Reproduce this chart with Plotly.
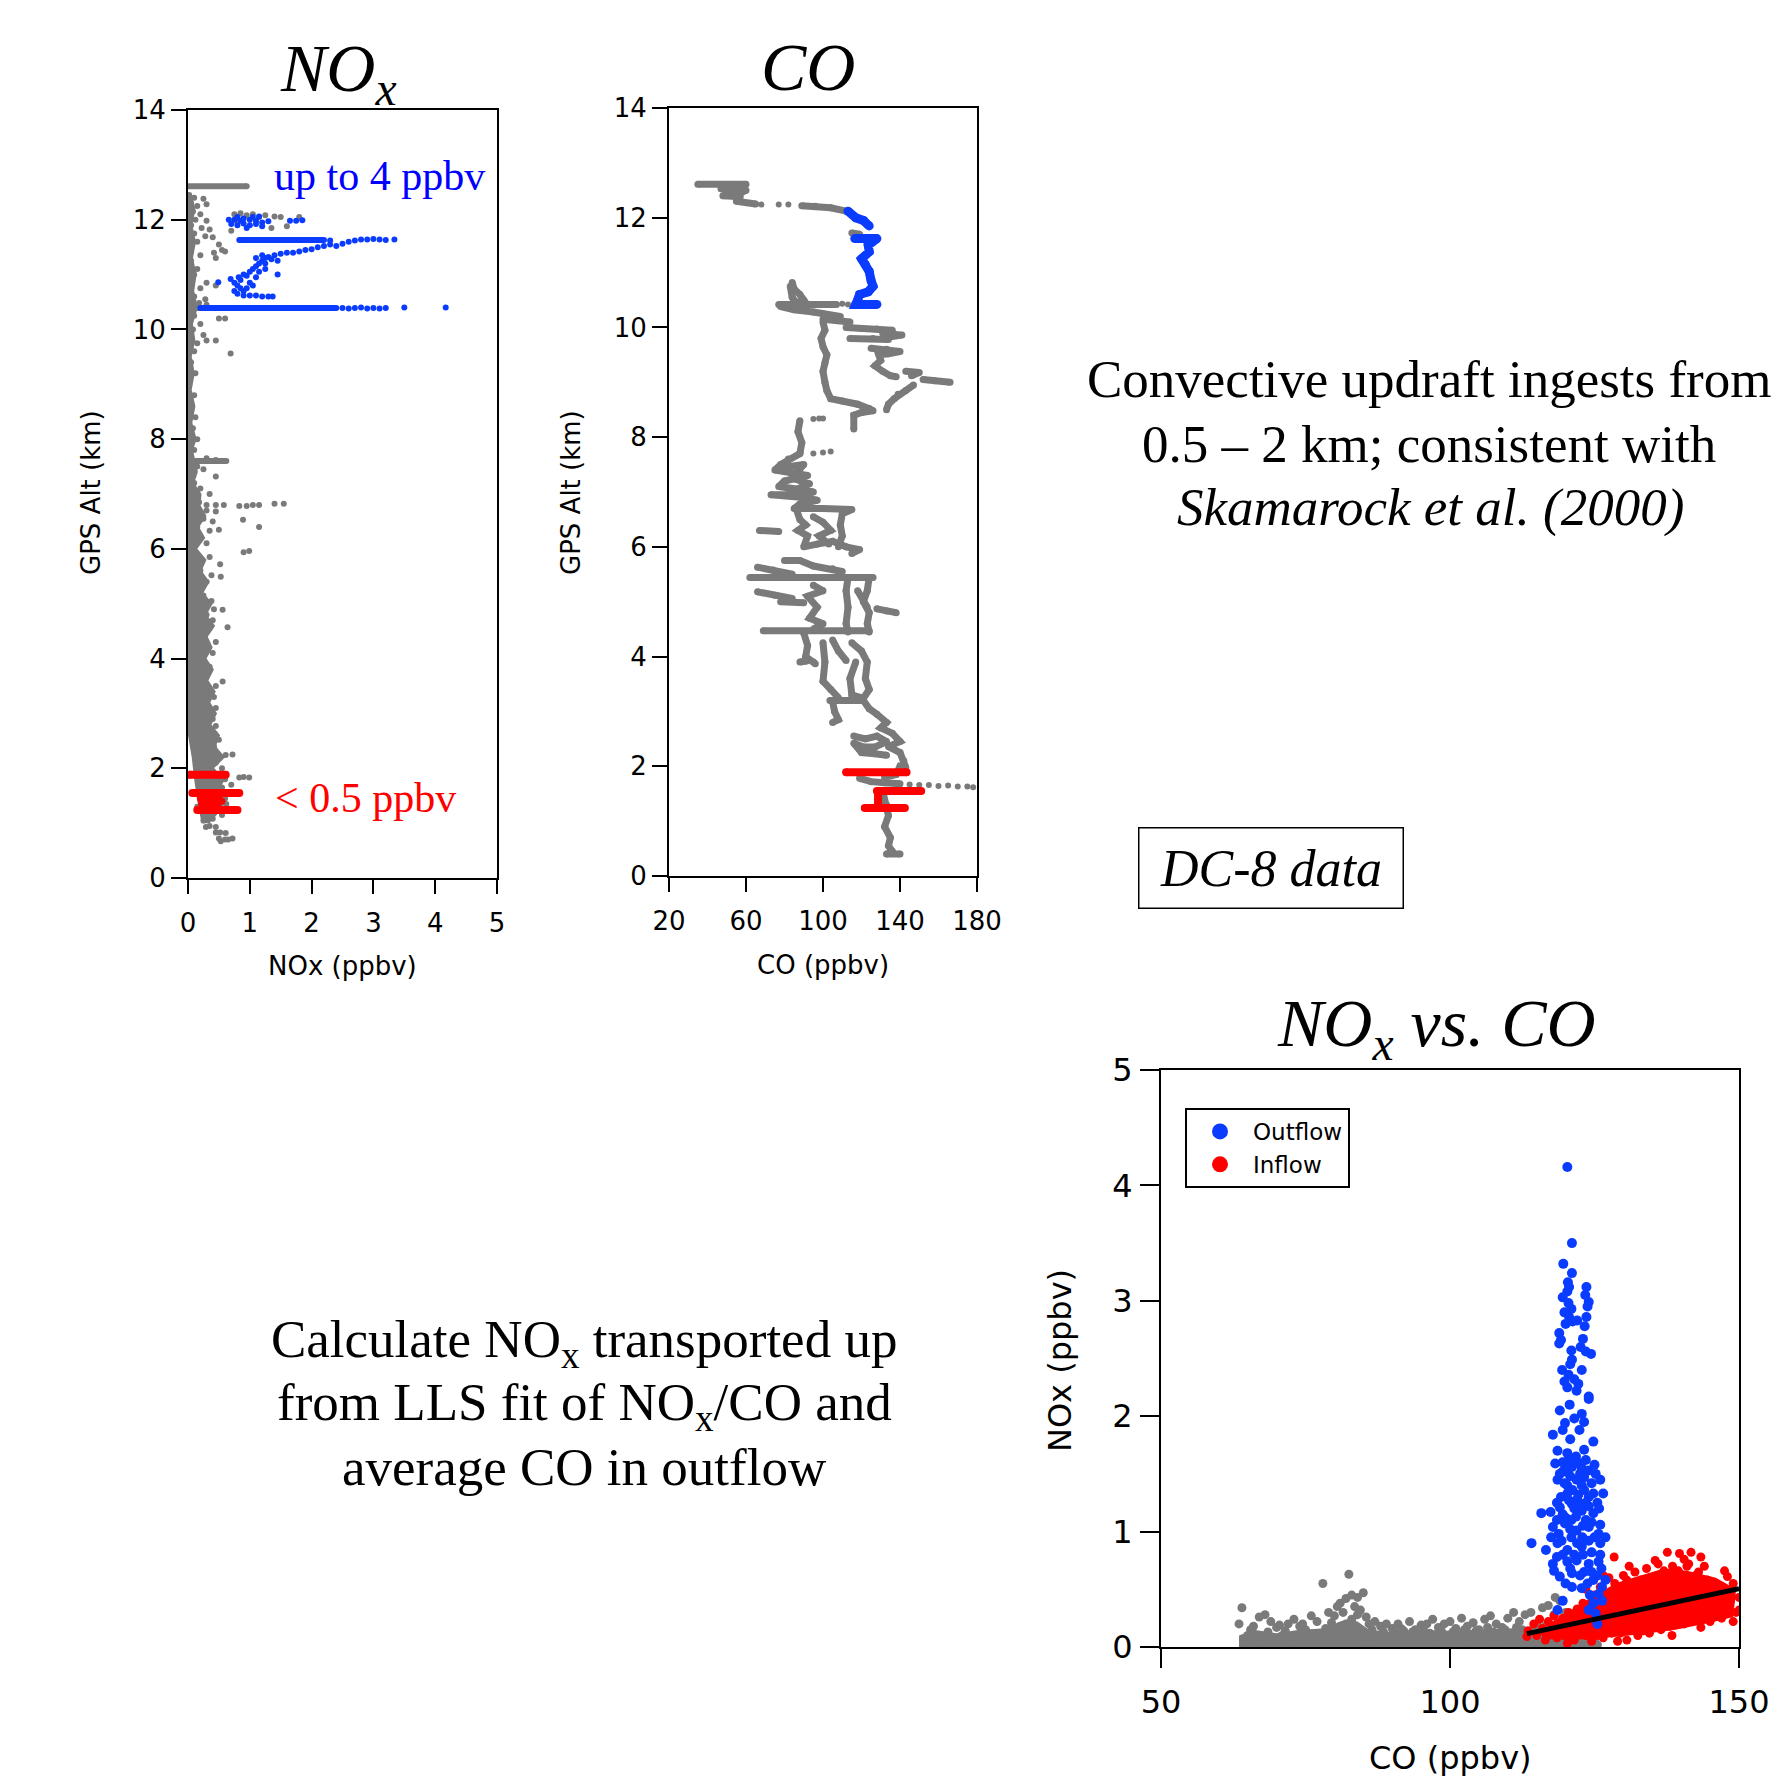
import plotly.graph_objects as go

W, H = 1775, 1778
SANS = "DejaVu Sans"
SERIF = "Liberation Serif"
GRAY = "#7a7a7a"
BLUE = "#0a3cff"
RED = "#ff0000"

# ---------------- Panel 1: NOx profile (NOx ppbv, GPS altitude km) ----------------
NOX_TICKS = [0, 1, 2, 3, 4, 5]
ALT_TICKS = [0, 2, 4, 6, 8, 10, 12, 14]

NOX_GRAY_CORE = [(0.35, 1.0), (0.5, 1.2), (0.62, 1.4), (0.5, 1.6), (0.6, 1.8), (0.42, 2.0), (0.6, 2.2),
                 (0.45, 2.4), (0.52, 2.6), (0.38, 2.8), (0.47, 3.0), (0.36, 3.2), (0.45, 3.4), (0.33, 3.6),
                 (0.42, 3.8), (0.3, 4.0), (0.4, 4.2), (0.32, 4.4), (0.44, 4.6), (0.3, 4.8), (0.4, 5.0),
                 (0.25, 5.2), (0.35, 5.4), (0.22, 5.6), (0.3, 5.8), (0.15, 6.0), (0.28, 6.2), (0.18, 6.4),
                 (0.3, 6.6), (0.2, 6.8), (0.22, 7.0), (0.1, 7.2), (0.16, 7.4), (0.12, 7.6), (0.08, 7.8),
                 (0.14, 8.0), (0.07, 8.3), (0.12, 8.6), (0.06, 8.9), (0.11, 9.2), (0.06, 9.5), (0.12, 9.8),
                 (0.08, 10.1), (0.16, 10.4), (0.1, 10.7), (0.14, 11.0), (0.08, 11.3), (0.13, 11.6),
                 (0.07, 11.9), (0.12, 12.2), (0.06, 12.45), (-0.04, 12.45), (-0.04, 3.0), (0.0, 2.6),
                 (0.06, 2.2), (0.1, 1.8), (0.15, 1.4), (0.22, 1.0)]
NOX_GRAY_PTS = [(0.02, 12.45), (0.1, 12.4), (0.25, 12.38), (0.05, 12.3), (0.15, 12.25), (0.3, 12.28), (0.08, 12.15),
                (0.2, 12.1), (0.12, 12.0), (0.3, 11.98), (0.05, 11.9), (0.22, 11.85), (0.35, 11.82), (0.1, 11.75),
                (0.28, 11.7), (0.4, 11.68), (0.15, 11.6), (0.5, 11.55), (0.55, 11.45), (0.42, 11.4), (0.6, 11.42),
                (0.2, 11.35), (0.45, 11.3), (0.05, 11.25), (0.15, 11.1), (0.1, 11.0), (0.3, 10.85), (0.45, 10.8),
                (0.2, 10.75), (0.1, 10.6), (0.28, 10.55), (0.18, 10.48), (0.3, 10.45), (0.5, 10.2), (0.6, 10.2),
                (0.1, 10.25), (0.2, 10.1), (0.08, 10.0), (0.25, 9.9), (0.3, 9.8), (0.45, 9.8), (0.15, 9.75),
                (0.69, 9.56), (0.1, 9.6), (0.05, 9.4), (0.12, 9.2), (0.02, 9.0), (0.1, 8.8), (0.05, 8.6),
                (0.12, 8.4), (0.08, 8.2), (0.15, 8.0), (0.05, 7.9), (0.1, 7.8), (0.3, 7.65), (0.45, 7.62),
                (0.15, 7.5), (0.25, 7.45), (0.45, 7.32), (0.1, 7.2), (0.2, 7.1), (0.35, 7.0), (0.1, 6.95),
                (0.18, 6.85), (0.3, 6.8), (0.45, 6.8), (0.58, 6.8), (0.83, 6.78), (0.95, 6.78), (1.05, 6.8),
                (1.15, 6.8), (1.4, 6.82), (1.55, 6.82), (0.12, 6.72), (0.3, 6.7), (0.45, 6.68), (0.89, 6.53),
                (0.25, 6.55), (0.4, 6.5), (1.15, 6.4), (0.15, 6.4), (0.35, 6.33), (0.5, 6.35), (0.2, 6.2),
                (0.3, 6.1), (0.9, 5.94), (0.99, 5.96), (0.1, 5.95), (0.35, 5.85), (0.52, 5.72), (0.2, 5.6),
                (0.38, 5.52), (0.53, 5.49), (0.3, 5.4), (0.1, 5.3), (0.25, 5.15), (0.38, 5.05), (0.56, 4.89),
                (0.42, 4.9), (0.3, 4.8), (0.4, 4.7), (0.64, 4.57), (0.35, 4.55), (0.2, 4.45), (0.45, 4.3),
                (0.3, 4.2), (0.4, 4.1), (0.25, 3.95), (0.35, 3.85), (0.3, 3.7), (0.56, 3.58), (0.45, 3.5),
                (0.38, 3.4), (0.42, 3.3), (0.3, 3.2), (0.45, 3.1), (0.35, 3.0), (0.4, 2.9), (0.45, 2.77),
                (0.38, 2.65), (0.5, 2.52), (0.42, 2.4), (0.35, 2.35), (0.61, 2.24), (0.72, 2.25), (0.5, 2.2),
                (0.45, 2.1), (0.3, 2.05), (0.55, 2.0), (0.4, 1.95), (0.83, 1.83), (0.9, 1.84), (0.99, 1.83),
                (0.6, 1.8), (0.45, 1.75), (0.7, 1.7), (0.55, 1.65), (0.3, 1.7), (0.6, 1.45), (0.62, 1.35),
                (0.15, 1.3), (0.55, 1.15), (0.3, 1.1), (0.25, 1.05), (0.4, 1.08), (0.29, 0.93), (0.35, 0.95),
                (0.45, 0.93), (0.45, 0.83), (0.52, 0.83), (0.61, 0.82), (0.5, 0.72), (0.6, 0.7), (0.72, 0.72),
                (0.53, 0.67), (0.65, 0.7), (0.75, 12.1), (0.85, 12.12), (0.95, 12.08), (1.05, 12.1),
                (1.15, 12.05), (1.25, 12.08), (1.4, 12.06), (1.5, 12.05), (1.8, 12.05), (0.8, 11.95),
                (1.35, 11.85), (1.6, 11.88), (0.7, 11.8)]
NOX_GRAY_STREAKS = [[(-0.03, 12.61), (0.95, 12.61)], [(-0.04, 10.39), (0.42, 10.39)], [(-0.04, 7.6), (0.62, 7.6)]]

NOX_OUT_STREAKS = [[(0.2, 10.39), (2.4, 10.39)], [(0.83, 11.63), (2.2, 11.63)]]
NOX_OUT_PTS = [(2.5, 10.39), (2.6, 10.38), (2.7, 10.39), (2.8, 10.4), (2.9, 10.38), (3.0, 10.39), (3.1, 10.38),
               (3.2, 10.39), (3.5, 10.4), (4.17, 10.4), (2.3, 11.62), (2.4, 11.52), (2.5, 11.56), (2.6, 11.6),
               (2.7, 11.62), (2.8, 11.64), (2.9, 11.64), (3.0, 11.65), (3.1, 11.64), (3.2, 11.63), (3.34, 11.64),
               (0.69, 10.92), (0.75, 10.85), (0.8, 10.8), (0.85, 10.75), (0.9, 10.7), (0.82, 10.95), (0.95, 10.98),
               (1.0, 11.05), (1.05, 11.1), (1.1, 11.15), (1.15, 11.2), (1.2, 11.25), (1.25, 11.3), (1.3, 11.32),
               (1.1, 11.3), (1.2, 11.35), (1.4, 11.35), (1.5, 11.38), (1.6, 11.4), (1.7, 11.4), (1.8, 11.42),
               (1.9, 11.45), (2.0, 11.46), (2.1, 11.5), (2.2, 11.52), (2.3, 11.55), (1.0, 10.85), (1.05, 10.8),
               (0.95, 10.75), (0.85, 10.9), (1.15, 11.05), (1.25, 11.1), (0.75, 10.7), (0.8, 10.65), (0.9, 10.62),
               (1.0, 10.62), (1.1, 10.62), (1.2, 10.6), (1.3, 10.6), (1.37, 10.6), (1.45, 11.25), (0.49, 10.86),
               (1.45, 11.0), (0.9, 11.0), (1.1, 10.95), (1.25, 11.2), (1.35, 11.28), (0.66, 12.0), (0.75, 12.0),
               (0.85, 11.98), (0.9, 12.02), (1.0, 12.0), (1.1, 11.98), (1.2, 11.95), (1.3, 11.97), (1.65, 11.98),
               (1.75, 11.98), (1.85, 11.99), (0.7, 11.92), (0.8, 11.9), (0.9, 11.93), (1.0, 11.9), (1.1, 11.92),
               (1.2, 11.88), (0.95, 11.85), (1.05, 12.05), (0.8, 12.05), (1.15, 12.06)]

NOX_IN_STREAKS = [[(0.02, 1.88), (0.61, 1.88)], [(0.07, 1.55), (0.83, 1.55)], [(0.15, 1.24), (0.8, 1.24)],
                  [(0.37, 1.25), (0.37, 1.55)]]
NOX_IN_PTS = [(0.2, 1.45), (0.25, 1.4), (0.3, 1.35), (0.35, 1.45), (0.37, 1.3), (0.4, 1.42), (0.45, 1.38),
              (0.5, 1.45), (0.55, 1.4), (0.28, 1.5), (0.42, 1.48), (0.33, 1.38), (0.48, 1.33), (0.22, 1.35),
              (0.37, 1.5)]

# ---------------- Panel 2: CO profile (CO ppbv, GPS altitude km) ----------------
CO_TICKS = [20, 60, 100, 140, 180]

CO_GRAY_PATHS = [
    [(35, 12.61), (60, 12.61), (59, 12.57), (47, 12.53), (60, 12.5), (57, 12.45), (48, 12.4), (57, 12.38),
     (55, 12.3), (65, 12.25)],
    [(89, 12.22), (96, 12.21), (104, 12.18), (112, 12.12)],
    [(115, 11.72), (119, 11.7)],
    [(77, 10.42), (107, 10.42)],
    [(84, 10.82), (85, 10.7), (88, 10.6), (90, 10.5), (86, 10.45), (84, 10.55), (83, 10.75)],
    [(78, 10.38), (85, 10.32), (95, 10.28), (100, 10.25), (109, 10.2)],
    [(100, 10.15), (108, 10.13), (114, 10.1)],
    [(112, 10.0), (120, 9.98), (128, 9.97), (136, 9.95), (131, 9.9), (141, 9.86), (135, 9.83)],
    [(114, 9.8), (126, 9.8), (134, 9.78)],
    [(125, 9.62), (133, 9.6), (140, 9.56), (134, 9.52), (129, 9.5), (130, 9.4), (127, 9.3), (131, 9.2),
     (135, 9.12), (138, 9.1)],
    [(143, 9.2), (150, 9.18), (146, 9.12)],
    [(152, 9.05), (158, 9.03), (166, 9.0)],
    [(147, 8.95), (143, 8.85), (139, 8.78), (137, 8.7), (134, 8.6), (133, 8.5)],
    [(100, 10.1), (101, 9.95), (99, 9.8), (100, 9.65), (102, 9.5), (101, 9.35), (100, 9.2), (101, 9.0),
     (102, 8.85), (104, 8.7), (110, 8.66), (118, 8.6), (124, 8.52), (126, 8.48), (120, 8.45), (116, 8.4),
     (116, 8.15)],
    [(88, 8.3), (87, 8.1), (89, 7.9), (88, 7.7)],
    [(88, 7.7), (82, 7.6), (78, 7.5), (75, 7.4), (85, 7.35), (92, 7.3), (80, 7.2), (77, 7.1), (87, 7.05),
     (95, 7.0), (85, 6.95), (73, 6.95), (90, 6.9), (97, 6.85), (88, 6.78), (85, 6.7), (100, 6.7), (115, 6.68),
     (110, 6.6), (109, 6.4), (110, 6.2), (108, 6.0)],
    [(86, 6.7), (88, 6.5), (91, 6.4), (87, 6.3), (92, 6.2), (90, 6.0), (97, 6.05), (105, 6.1), (112, 6.0),
     (119, 5.95), (115, 5.88)],
    [(95, 6.55), (100, 6.45), (104, 6.3), (98, 6.2), (103, 6.05)],
    [(80, 7.45), (90, 7.5), (84, 7.25), (93, 7.15), (83, 7.0)],
    [(67, 6.3), (77, 6.28)],
    [(80, 5.75), (88, 5.75), (95, 5.65), (105, 5.6), (110, 5.55)],
    [(66, 5.63), (74, 5.58), (84, 5.5)],
    [(62, 5.44), (126, 5.44)],
    [(113, 5.44), (112, 5.2), (113, 4.9), (112, 4.6), (113, 4.45)],
    [(124, 5.44), (123, 5.2), (121, 5.0), (124, 4.8), (123, 4.6), (124, 4.45)],
    [(118, 5.2), (123, 4.9)],
    [(66, 5.18), (75, 5.12), (84, 5.06)],
    [(78, 5.0), (90, 4.98)],
    [(95, 5.3), (100, 5.2), (92, 5.1), (97, 4.9), (93, 4.7), (100, 4.6), (95, 4.5)],
    [(128, 4.87), (133, 4.83), (138, 4.8)],
    [(69, 4.47), (124, 4.47)],
    [(90, 4.43), (92, 4.2), (91, 4.0), (95, 3.9), (96, 3.87)],
    [(88, 3.9), (91.5, 3.92)],
    [(100, 4.25), (101, 3.9), (100, 3.55), (104, 3.4), (108, 3.25)],
    [(105, 4.3), (108, 4.1), (112, 3.93)],
    [(115, 4.25), (120, 4.1), (123, 3.9), (122, 3.6), (124, 3.4), (121, 3.24), (115, 3.3), (114, 3.6),
     (117, 3.9)],
    [(103.6, 3.2), (121, 3.2)],
    [(105, 3.18), (106, 3.0), (108, 2.85), (105, 2.8)],
    [(121, 3.2), (124, 3.05), (128, 2.95), (133, 2.8), (130, 2.7), (136, 2.6), (140, 2.45), (134, 2.36),
     (140, 2.25), (142, 2.1), (143, 1.98), (140, 2.0), (138, 1.85), (132, 1.8)],
    [(116, 2.55), (122, 2.5), (128, 2.55), (133, 2.45), (127, 2.35), (121, 2.35), (116, 2.42), (120, 2.25),
     (127, 2.23), (133, 2.2)],
    [(119, 1.78), (125, 1.72), (132, 1.7), (140, 1.68)],
    [(131, 1.55), (133, 1.3), (134, 1.1), (132, 0.9), (135, 0.7), (134, 0.55), (136, 0.45), (133, 0.4),
     (140, 0.4)],
]
CO_GRAY_PTS = [(68, 12.24), (77, 12.24), (82, 12.24), (110, 10.43), (113, 10.42), (95, 8.33), (98, 8.34),
               (100, 8.34), (95, 7.7), (100, 7.72), (104, 7.74), (145, 1.67), (150, 1.66), (155, 1.66),
               (160, 1.64), (165, 1.65), (170, 1.63), (175, 1.63), (178, 1.62)]
CO_OUT_PATHS = [
    [(113, 12.12), (117, 12.0), (121, 11.95), (124, 11.85)],
    [(116.5, 11.62), (128, 11.62), (123.5, 11.5), (124, 11.38), (120, 11.25), (122, 11.15), (124, 11.02),
     (125, 10.85), (126, 10.75), (123.5, 10.65), (119, 10.6), (118, 10.5), (117, 10.42), (128, 10.42)],
]
CO_IN_PATHS = [
    [(112, 1.89), (143.4, 1.89)],
    [(128, 1.55), (151, 1.55)],
    [(128.6, 1.55), (128.6, 1.3)],
    [(121.7, 1.24), (142.5, 1.24)],
]

# ---------------- Panel 3: NOx vs CO scatter ----------------
SC_CO_TICKS = [50, 100, 150]
SC_NOX_TICKS = [0, 1, 2, 3, 4, 5]

SC_GRAY_CORE = [(63.5, 0), (63.5, 0.1), (66, 0.15), (70, 0.12), (74, 0.15), (78, 0.16), (80, 0.2), (82, 0.24),
                (84, 0.22), (86, 0.15), (90, 0.13), (95, 0.15), (100, 0.14), (105, 0.15), (110, 0.16),
                (115, 0.17), (120, 0.18), (124, 0.14), (125, 0.03), (125, 0)]
SC_GRAY_PTS = [(64, 0.34), (63.5, 0.2), (65, 0.1), (66, 0.18), (67, 0.26), (68, 0.28), (69, 0.22), (70, 0.17),
               (71, 0.1), (72, 0.2), (73, 0.24), (74, 0.18), (75, 0.15), (76, 0.27), (77, 0.22), (78, 0.55),
               (78.5, 0.16), (79, 0.3), (80, 0.27), (80.5, 0.35), (81, 0.38), (81.5, 0.3), (82, 0.42),
               (82.5, 0.63), (83, 0.45), (83.5, 0.35), (84, 0.43), (84.5, 0.32), (85, 0.47), (85.5, 0.26),
               (86, 0.2), (87, 0.22), (88, 0.18), (89, 0.2), (90, 0.16), (91, 0.2), (92, 0.14), (93, 0.22),
               (94, 0.15), (95, 0.19), (96, 0.2), (97, 0.24), (98, 0.17), (99, 0.2), (100, 0.22), (101, 0.16),
               (102, 0.25), (103, 0.18), (104, 0.21), (105, 0.15), (106, 0.24), (107, 0.27), (108, 0.2),
               (109, 0.17), (110, 0.25), (111, 0.3), (112, 0.22), (113, 0.28), (114, 0.3), (115, 0.2),
               (116, 0.34), (117, 0.36), (118.2, 0.43), (118, 0.28), (119, 0.4), (120, 0.3), (121, 0.25),
               (122, 0.2), (123, 0.15), (124, 0.1), (125, 0.05), (125.5, 0.02), (64.5, 0.04), (67.5, 0.06),
               (72.5, 0.05), (76.5, 0.08), (86.5, 0.06), (92.5, 0.07), (97.5, 0.05), (103.5, 0.08),
               (108.5, 0.06), (112.5, 0.09), (117.5, 0.08), (121.5, 0.05), (65.5, 0.15), (68.5, 0.13),
               (70.5, 0.19), (71.5, 0.14), (74.5, 0.2), (77.5, 0.12), (79.5, 0.21), (81, 0.18), (83, 0.24),
               (84, 0.28), (86.5, 0.15), (88.5, 0.13), (90.5, 0.12), (91.5, 0.16), (93.5, 0.13), (95.5, 0.14),
               (96.5, 0.12), (98.5, 0.14), (100.5, 0.13), (102.5, 0.15), (104.5, 0.14), (106.5, 0.17),
               (107.5, 0.13), (109.5, 0.15), (111.5, 0.17), (112.5, 0.15), (114.5, 0.16), (116.5, 0.18),
               (118.5, 0.2), (119.5, 0.16), (121.5, 0.2), (122.5, 0.14), (123.5, 0.18)]

SC_OUT_PTS = [(120.3, 4.16), (121.1, 3.50), (119.6, 3.32), (121.1, 3.24), (120.4, 3.16), (120.6, 3.12),
              (120.3, 3.08), (123.6, 3.12), (123.4, 3.05), (124.0, 2.99), (123.8, 2.95), (119.5, 3.03),
              (120.5, 2.98), (121.0, 2.93), (119.8, 2.9), (120.6, 2.86), (121.2, 2.82), (120.0, 2.80),
              (122.0, 2.83), (123.6, 2.86), (123.3, 2.78), (118.9, 2.72), (119.2, 2.66), (118.9, 2.63),
              (123.0, 2.67), (122.6, 2.60), (123.5, 2.56), (124.4, 2.54), (121.0, 2.57), (121.1, 2.49),
              (120.8, 2.45), (119.4, 2.40), (120.5, 2.36), (121.5, 2.32), (122.8, 2.40), (122.2, 2.28),
              (119.8, 2.30), (120.3, 2.25), (124.0, 2.17), (121.9, 2.22), (120.7, 2.10), (124.0, 2.15),
              (119.0, 2.05), (122.8, 2.02), (119.9, 1.94), (123.2, 1.95), (121.5, 1.98), (117.8, 1.84),
              (119.5, 1.88), (122.4, 1.88), (124.8, 1.78), (120.8, 1.80), (118.6, 1.70), (120.3, 1.68),
              (123.2, 1.71), (121.8, 1.65), (118.2, 1.59), (121.1, 1.56), (124.0, 1.53), (119.5, 1.52),
              (122.5, 1.50), (126.0, 1.45), (118.6, 1.45), (121.9, 1.45), (124.5, 1.42), (120.3, 1.40),
              (120.3, 1.33), (123.2, 1.36), (124.8, 1.33), (126.5, 1.33), (119.2, 1.30), (122.0, 1.28),
              (125.5, 1.25), (115.8, 1.16), (117.4, 1.17), (119.0, 1.21), (121.1, 1.24), (122.8, 1.18),
              (124.8, 1.16), (120.0, 1.12), (123.5, 1.10), (117.8, 1.04), (119.9, 1.07), (121.9, 1.01),
              (124.0, 1.04), (125.7, 0.98), (118.8, 0.98), (122.9, 0.95), (114.1, 0.90), (116.6, 0.84),
              (118.6, 0.90), (120.3, 0.84), (122.8, 0.87), (126.0, 0.90), (126.9, 0.95), (121.5, 0.80),
              (124.5, 0.82), (117.8, 0.72), (120.3, 0.74), (121.9, 0.75), (124.0, 0.72), (125.7, 0.74),
              (119.0, 0.61), (121.1, 0.64), (123.2, 0.65), (118.0, 0.66), (121.1, 0.52), (122.8, 0.51),
              (124.8, 0.58), (126.9, 0.58), (125.7, 0.46), (124.8, 0.38), (119.5, 0.40), (118.6, 0.32),
              (125.2, 0.29), (126.3, 0.52), (124.2, 0.45), (119.5, 1.6), (120.5, 1.62), (122.0, 1.6),
              (123.5, 1.62), (125.0, 1.58), (119.0, 1.5), (120.8, 1.48), (123.2, 1.47), (125.2, 1.5),
              (119.8, 1.42), (122.8, 1.4), (121.2, 1.36), (124.0, 1.3), (118.5, 1.25), (120.6, 1.27),
              (122.6, 1.24), (124.0, 1.22), (125.8, 1.2), (119.5, 1.15), (121.8, 1.13), (124.5, 1.08),
              (118.5, 1.1), (120.8, 1.02), (123.0, 1.05), (126.0, 1.06), (119.3, 0.92), (121.0, 0.95),
              (124.0, 0.92), (125.0, 0.95), (117.5, 0.95), (119.5, 0.8), (123.0, 0.8), (126.0, 0.8),
              (118.5, 0.78), (120.8, 0.68), (122.5, 0.62), (124.5, 0.65), (126.2, 0.68), (120.0, 0.55),
              (123.8, 0.55), (125.5, 0.62), (124.0, 0.32), (126.3, 0.4), (125.5, 0.2), (121.5, 1.2),
              (122.2, 1.32), (121.0, 1.1), (122.0, 0.9), (123.5, 1.25), (120.5, 1.55), (122.8, 1.55)]

SC_IN_CORE = [(116, 0.07), (121, 0.06), (127, 0.08), (133, 0.11), (139, 0.15), (145, 0.21), (149, 0.26),
              (149.5, 0.5), (146, 0.6), (141, 0.66), (137, 0.68), (133, 0.62), (129, 0.56), (125, 0.45),
              (121, 0.32), (117, 0.2)]
SC_IN_PTS = [(113.3, 0.09), (113.5, 0.14), (114.5, 0.2), (115.0, 0.1), (115.5, 0.24), (116.0, 0.16),
             (116.5, 0.06), (117.0, 0.22), (117.5, 0.12), (118.0, 0.27), (118.5, 0.08), (119.0, 0.18),
             (119.5, 0.25), (120.0, 0.1), (120.3, 0.03), (120.5, 0.3), (121.0, 0.2), (121.5, 0.06),
             (122.0, 0.33), (122.5, 0.15), (123.0, 0.38), (123.5, 0.1), (124.0, 0.28), (124.5, 0.05),
             (125.0, 0.45), (125.5, 0.18), (126.0, 0.52), (126.5, 0.08), (127.0, 0.42), (127.5, 0.6),
             (128.0, 0.12), (128.4, 0.78), (128.5, 0.55), (129.0, 0.05), (129.5, 0.48), (130.0, 0.62),
             (130.6, 0.58), (130.6, 0.06), (131.0, 0.15), (131.5, 0.53), (132.0, 0.65), (132.5, 0.1),
             (133.0, 0.58), (133.5, 0.2), (134.0, 0.68), (134.5, 0.12), (135.0, 0.6), (135.5, 0.25),
             (136.0, 0.72), (136.5, 0.15), (137.0, 0.66), (137.6, 0.82), (138.0, 0.18), (138.4, 0.10),
             (138.5, 0.7), (139.0, 0.3), (139.7, 0.81), (140.0, 0.62), (140.5, 0.2), (141.0, 0.7),
             (141.3, 0.72), (141.7, 0.82), (142.0, 0.25), (142.5, 0.55), (143.0, 0.65), (143.4, 0.78),
             (143.4, 0.17), (144.0, 0.3), (144.5, 0.58), (145.0, 0.22), (145.5, 0.5), (146.0, 0.55),
             (146.3, 0.29), (147.0, 0.48), (147.5, 0.35), (148.0, 0.61), (148.5, 0.4), (149.0, 0.55),
             (149.5, 0.3), (150.0, 0.43), (150.0, 0.32), (149.0, 0.22), (147.0, 0.25), (126.0, 0.3),
             (128.0, 0.35), (130.0, 0.2), (132.0, 0.35), (134.0, 0.4), (136.0, 0.45), (138.0, 0.5),
             (140.0, 0.4), (142.0, 0.45), (144.0, 0.42), (127.0, 0.2), (129.0, 0.25), (131.0, 0.4),
             (133.0, 0.3), (135.0, 0.35), (137.0, 0.3), (139.0, 0.5), (141.0, 0.35), (143.0, 0.38),
             (145.0, 0.4), (136.5, 0.58), (139.5, 0.66), (142.5, 0.62), (134.5, 0.52), (131.5, 0.46),
             (128.5, 0.42), (146.5, 0.45), (144.5, 0.35), (141.5, 0.27), (137.5, 0.22), (133.5, 0.14),
             (129.5, 0.12), (125.5, 0.1), (122.5, 0.22), (119.5, 0.14), (116.5, 0.12), (147.5, 0.66),
             (144.0, 0.7), (140.5, 0.76), (135.5, 0.75), (131.0, 0.7), (126.5, 0.62), (123.5, 0.5)]

FIT_CO = [113.3, 150.0]
FIT_NOX = [0.116, 0.506]


# ---------------- helpers ----------------
def unzip(pts):
    return [p[0] for p in pts], [p[1] for p in pts]


def paths(segs):
    xs, ys = [], []
    for s in segs:
        for a, b in s:
            xs.append(a)
            ys.append(b)
        xs.append(None)
        ys.append(None)
    return xs, ys


def px(x):
    return x / W


def py(y):
    return 1 - y / H


fig = go.Figure()


def add_poly(pts, color, xa, ya):
    x, y = unzip(pts)
    fig.add_trace(go.Scatter(x=x + [x[0]], y=y + [y[0]], mode="lines", fill="toself", fillcolor=color,
                             line=dict(width=0, color=color), xaxis=xa, yaxis=ya, showlegend=False,
                             hoverinfo="skip"))


def add_pts(pts, color, size, xa, ya):
    x, y = unzip(pts)
    fig.add_trace(go.Scatter(x=x, y=y, mode="markers", marker=dict(color=color, size=size, line=dict(width=0)),
                             xaxis=xa, yaxis=ya, showlegend=False, hoverinfo="skip"))


def add_paths(segs, color, width, xa, ya):
    x, y = paths(segs)
    fig.add_trace(go.Scatter(x=x, y=y, mode="lines+markers", line=dict(color=color, width=width),
                             marker=dict(color=color, size=width), xaxis=xa, yaxis=ya, showlegend=False,
                             hoverinfo="skip", connectgaps=False))


# panel 1
add_poly(NOX_GRAY_CORE, GRAY, "x", "y")
add_pts(NOX_GRAY_PTS, GRAY, 6, "x", "y")
add_paths(NOX_GRAY_STREAKS, GRAY, 6, "x", "y")
add_paths(NOX_OUT_STREAKS, BLUE, 6, "x", "y")
add_pts(NOX_OUT_PTS, BLUE, 6, "x", "y")
add_paths(NOX_IN_STREAKS, RED, 8, "x", "y")
add_pts(NOX_IN_PTS, RED, 7, "x", "y")

# panel 2
add_paths(CO_GRAY_PATHS, GRAY, 7, "x2", "y2")
add_pts(CO_GRAY_PTS, GRAY, 6, "x2", "y2")
add_paths(CO_OUT_PATHS, BLUE, 9, "x2", "y2")
add_paths(CO_IN_PATHS, RED, 8, "x2", "y2")

# panel 3
add_poly(SC_GRAY_CORE, GRAY, "x3", "y3")
add_pts(SC_GRAY_PTS, GRAY, 9, "x3", "y3")
add_poly(SC_IN_CORE, RED, "x3", "y3")
add_pts(SC_IN_PTS, RED, 9, "x3", "y3")
add_pts(SC_OUT_PTS, BLUE, 10, "x3", "y3")
fig.add_trace(go.Scatter(x=FIT_CO, y=FIT_NOX, mode="lines", line=dict(color="black", width=5),
                         xaxis="x3", yaxis="y3", showlegend=False, hoverinfo="skip"))
# legend entries
fig.add_trace(go.Scatter(x=[None], y=[None], mode="markers", name="Outflow",
                         marker=dict(color=BLUE, size=16), xaxis="x3", yaxis="y3"))
fig.add_trace(go.Scatter(x=[None], y=[None], mode="markers", name="Inflow",
                         marker=dict(color=RED, size=16), xaxis="x3", yaxis="y3"))


def axis(dom, rng, ticks, anchor, size, ticklen, standoff):
    return dict(domain=dom, range=rng, tickvals=ticks, ticktext=[str(t) for t in ticks], anchor=anchor,
                showline=True, linecolor="black", linewidth=2, mirror=True, ticks="outside",
                ticklen=ticklen, tickwidth=2, tickcolor="black", showgrid=False, zeroline=False,
                tickfont=dict(family=SANS, size=size, color="black"), layer="below traces",
                ticklabelstandoff=standoff, fixedrange=True, automargin=False)


fig.update_layout(
    width=W, height=H, margin=dict(l=0, r=0, t=0, b=0, pad=0, autoexpand=False),
    paper_bgcolor="white", plot_bgcolor="white",
    xaxis=axis([px(188), px(497)], [0, 5], NOX_TICKS, "y", 26, 14, 7),
    yaxis=axis([py(878), py(110)], [0, 14], ALT_TICKS, "x", 26, 15, 0),
    xaxis2=axis([px(669), px(977)], [20, 180], CO_TICKS, "y2", 26, 14, 7),
    yaxis2=axis([py(876), py(108)], [0, 14], ALT_TICKS, "x2", 26, 15, 0),
    xaxis3=axis([px(1161), px(1739)], [50, 150], SC_CO_TICKS, "y3", 32, 19, 7),
    yaxis3=axis([py(1647), py(1070)], [0, 5], SC_NOX_TICKS, "x3", 32, 19, 1),
    showlegend=True,
    legend=dict(x=px(1185), y=py(1108), xanchor="left", yanchor="top", bordercolor="black", borderwidth=2,
                bgcolor="white", font=dict(family=SANS, size=23, color="black"), itemsizing="trace",
                itemwidth=56, tracegroupgap=0),
)


def ann(text, x, y, size, family=SERIF, color="black", xanchor="center", angle=0, **kw):
    fig.add_annotation(text=text, x=px(x), y=py(y), xref="paper", yref="paper", showarrow=False,
                       xanchor=xanchor, yanchor="middle", textangle=angle,
                       font=dict(family=family, size=size, color=color), **kw)


# panel titles
ann("<i>NO<sub>x</sub></i>", 338, 72, 68)
ann("<i>CO</i>", 808, 67, 68)
ann("<i>NO<sub>x</sub> vs. CO</i>", 1436, 1027, 68)

# axis titles
ann("GPS Alt (km)", 91, 493, 26, family=SANS, angle=-90)
ann("NOx (ppbv)", 342, 966, 26, family=SANS)
ann("GPS Alt (km)", 571, 493, 26, family=SANS, angle=-90)
ann("CO (ppbv)", 823, 965, 26, family=SANS)
ann("CO (ppbv)", 1450, 1758, 32, family=SANS)
ann("NOx (ppbv)", 1060, 1361, 32, family=SANS, angle=-90)

# in-panel labels
ann("up to 4 ppbv", 272, 176, 42, color="#0000ff", xanchor="left")
ann("&lt; 0.5 ppbv", 273, 798, 42, color=RED, xanchor="left")

# text blocks
ann("Convective updraft ingests from", 1429, 379, 53)
ann("0.5 \u2013 2 km; consistent with", 1429, 444, 53)
ann("<i>Skamarock et al. (2000)</i>", 1430, 507, 53)
ann("Calculate NO<sub>x</sub> transported up", 584, 1343, 53)
ann("from LLS fit of NO<sub>x</sub>/CO and", 584, 1406, 53)
ann("average CO in outflow", 584, 1467, 53)
ann("<i>DC-8 data</i>", 1271, 868, 52, bordercolor="black", borderwidth=1.5, borderpad=0,
    width=263, height=79, bgcolor="white")

fig.write_html("out.html", config={"displayModeBar": False},
               post_script="document.body.style.margin='0';document.body.style.overflow='hidden';")
